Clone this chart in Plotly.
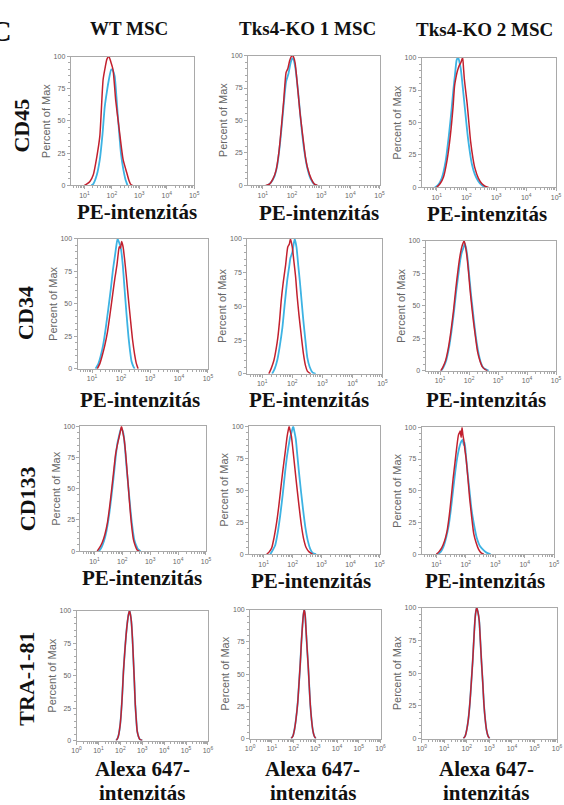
import plotly.graph_objects as go

# ---------------- data (log10 intensity, percent of max) ----------------
columns = ["WT MSC", "Tks4-KO 1 MSC", "Tks4-KO 2 MSC"]
rows = ["CD45", "CD34", "CD133", "TRA-1-81"]
pe_tick_exp = [1, 2, 3, 4, 5]
alexa_tick_exp = [0, 1, 2, 3, 4, 5, 6]
y_ticks = [0, 25, 50, 75, 100]

# CD45
cd45_wt_red_x = [1.00, 1.08, 1.20, 1.32, 1.45, 1.56, 1.68, 1.76, 1.82, 1.89, 1.96, 2.04, 2.14, 2.27, 2.41, 2.54, 2.62, 2.68, 2.75]
cd45_wt_red_y = [0, 1, 3, 8, 22, 38, 82, 92, 98, 100, 96, 90, 66, 43, 20, 10, 4, 1, 0]
cd45_wt_blue_x = [1.25, 1.32, 1.45, 1.56, 1.66, 1.74, 1.82, 1.89, 1.98, 2.04, 2.10, 2.21, 2.33, 2.42, 2.49, 2.57]
cd45_wt_blue_y = [0, 1, 8, 20, 40, 61, 73, 82, 90, 89, 85, 56, 25, 12, 5, 0]

cd45_ko1_red_x = [1.10, 1.23, 1.35, 1.46, 1.55, 1.63, 1.72, 1.80, 1.86, 1.92, 1.97, 2.03, 2.07, 2.11, 2.20, 2.28, 2.37, 2.46, 2.54, 2.66, 2.77, 2.88]
cd45_ko1_red_y = [0, 1, 5, 12, 25, 43, 66, 87, 90, 96, 99, 100, 98, 94, 74, 55, 38, 22, 13, 5, 1, 0]
cd45_ko1_blue_x = [1.15, 1.27, 1.40, 1.50, 1.60, 1.70, 1.80, 1.88, 1.95, 2.01, 2.05, 2.12, 2.22, 2.32, 2.42, 2.52, 2.64, 2.76, 2.85]
cd45_ko1_blue_y = [0, 2, 7, 16, 34, 58, 80, 86, 94, 98, 97, 90, 70, 46, 27, 14, 5, 1, 0]

cd45_ko2_red_x = [1.00, 1.12, 1.23, 1.35, 1.46, 1.55, 1.60, 1.66, 1.70, 1.76, 1.81, 1.87, 1.90, 1.93, 2.02, 2.08, 2.14, 2.22, 2.28, 2.40, 2.51, 2.62, 2.74]
cd45_ko2_red_y = [0, 3, 8, 21, 40, 62, 78, 86, 90, 94, 96, 100, 92, 83, 65, 50, 35, 22, 15, 7, 3, 1, 0]
cd45_ko2_blue_x = [0.94, 1.05, 1.17, 1.30, 1.41, 1.50, 1.56, 1.62, 1.67, 1.72, 1.76, 1.81, 1.88, 1.95, 2.05, 2.18, 2.28, 2.39, 2.50, 2.63]
cd45_ko2_blue_y = [0, 2, 7, 20, 40, 60, 75, 88, 98, 100, 97, 91, 76, 60, 38, 18, 10, 5, 2, 0]

# CD34
cd34_wt_red_x = [1.18, 1.27, 1.35, 1.44, 1.53, 1.62, 1.71, 1.79, 1.86, 1.90, 1.94, 1.98, 2.02, 2.07, 2.12, 2.18, 2.25, 2.33, 2.40, 2.47, 2.53, 2.59]
cd34_wt_red_y = [0, 4, 10, 18, 28, 42, 57, 70, 80, 88, 94, 93, 98, 94, 85, 72, 55, 37, 22, 11, 4, 0]
cd34_wt_blue_x = [1.12, 1.22, 1.30, 1.38, 1.47, 1.56, 1.65, 1.72, 1.79, 1.84, 1.88, 1.94, 2.00, 2.06, 2.12, 2.19, 2.26, 2.31, 2.36, 2.42, 2.47]
cd34_wt_blue_y = [0, 4, 10, 18, 31, 46, 62, 76, 87, 95, 100, 97, 92, 80, 62, 42, 24, 14, 6, 2, 0]

cd34_ko1_red_x = [1.22, 1.30, 1.39, 1.46, 1.52, 1.58, 1.63, 1.70, 1.78, 1.85, 1.90, 1.94, 2.00, 2.05, 2.11, 2.16, 2.22, 2.30, 2.37, 2.44, 2.50, 2.61]
cd34_ko1_red_y = [0, 4, 10, 18, 27, 40, 54, 68, 81, 94, 96, 100, 94, 84, 72, 58, 44, 28, 15, 6, 2, 0]
cd34_ko1_blue_x = [1.33, 1.42, 1.50, 1.58, 1.67, 1.75, 1.83, 1.90, 1.94, 2.00, 2.03, 2.08, 2.14, 2.20, 2.25, 2.31, 2.37, 2.44, 2.50, 2.58, 2.67, 2.78]
cd34_ko1_blue_y = [0, 4, 10, 20, 34, 52, 69, 80, 86, 90, 94, 100, 94, 80, 69, 54, 39, 24, 12, 5, 1, 0]

cd34_ko2_red_x = [1.02, 1.10, 1.19, 1.28, 1.37, 1.46, 1.54, 1.62, 1.69, 1.77, 1.83, 1.88, 1.92, 1.98, 2.03, 2.09, 2.15, 2.22, 2.29, 2.37, 2.46, 2.55, 2.63]
cd34_ko2_red_y = [0, 3, 8, 17, 30, 46, 63, 78, 89, 97, 100, 95, 89, 76, 63, 50, 38, 26, 15, 8, 3, 1, 0]
cd34_ko2_blue_x = [1.04, 1.12, 1.21, 1.30, 1.39, 1.48, 1.56, 1.64, 1.70, 1.76, 1.81, 1.85, 1.90, 1.95, 2.01, 2.07, 2.13, 2.19, 2.26, 2.33, 2.41, 2.50, 2.59, 2.68]
cd34_ko2_blue_y = [0, 3, 8, 17, 30, 46, 62, 76, 86, 92, 95, 98, 94, 86, 72, 58, 46, 34, 22, 13, 6, 2, 1, 0]

# CD133
cd133_wt_red_x = [1.10, 1.19, 1.28, 1.37, 1.46, 1.53, 1.60, 1.68, 1.76, 1.82, 1.88, 1.93, 1.97, 2.02, 2.07, 2.12, 2.16, 2.22, 2.28, 2.34, 2.40, 2.47, 2.53, 2.61]
cd133_wt_red_y = [0, 3, 7, 13, 22, 33, 46, 62, 78, 85, 91, 96, 100, 95, 89, 78, 67, 50, 33, 19, 9, 4, 1, 0]
cd133_wt_blue_x = [1.16, 1.25, 1.34, 1.43, 1.52, 1.61, 1.70, 1.76, 1.82, 1.88, 1.95, 2.00, 2.04, 2.09, 2.14, 2.21, 2.28, 2.35, 2.43, 2.49, 2.55, 2.65]
cd133_wt_blue_y = [0, 3, 8, 16, 28, 44, 62, 75, 86, 92, 98, 97, 94, 84, 70, 53, 36, 21, 9, 5, 2, 0]

cd133_ko1_red_x = [1.11, 1.20, 1.28, 1.36, 1.45, 1.52, 1.59, 1.66, 1.74, 1.81, 1.85, 1.88, 1.92, 1.96, 2.01, 2.07, 2.14, 2.22, 2.30, 2.38, 2.47, 2.56, 2.69]
cd133_ko1_red_y = [0, 2, 5, 13, 25, 37, 51, 65, 79, 92, 97, 100, 96, 92, 82, 69, 54, 38, 23, 12, 5, 2, 0]
cd133_ko1_blue_x = [1.23, 1.31, 1.40, 1.48, 1.57, 1.66, 1.74, 1.81, 1.88, 1.92, 1.96, 2.02, 2.06, 2.11, 2.16, 2.22, 2.29, 2.36, 2.44, 2.53, 2.61, 2.69, 2.81]
cd133_ko1_blue_y = [0, 3, 7, 16, 30, 47, 64, 77, 87, 92, 95, 100, 96, 90, 78, 64, 49, 35, 21, 10, 4, 1, 0]

cd133_ko2_red_x = [1.00, 1.09, 1.18, 1.27, 1.36, 1.44, 1.51, 1.57, 1.63, 1.69, 1.75, 1.79, 1.81, 1.84, 1.87, 1.90, 1.93, 1.97, 2.01, 2.07, 2.13, 2.20, 2.27, 2.35, 2.43, 2.52, 2.61]
cd133_ko2_red_y = [0, 2, 5, 10, 18, 31, 46, 60, 72, 84, 94, 96, 97, 92, 100, 94, 90, 82, 75, 60, 44, 29, 16, 9, 4, 1, 0]
cd133_ko2_blue_x = [1.06, 1.15, 1.24, 1.33, 1.42, 1.49, 1.56, 1.62, 1.68, 1.74, 1.80, 1.85, 1.89, 1.93, 1.96, 2.01, 2.07, 2.13, 2.19, 2.28, 2.37, 2.49, 2.61, 2.72, 2.84]
cd133_ko2_blue_y = [0, 2, 6, 13, 23, 35, 49, 61, 72, 80, 86, 89, 90, 86, 88, 76, 62, 49, 36, 23, 13, 6, 3, 1, 0]

# TRA-1-81 (red and blue overlap completely)
tra_wt_x = [1.81, 1.88, 1.93, 1.99, 2.04, 2.09, 2.14, 2.20, 2.26, 2.32, 2.37, 2.42, 2.46, 2.50, 2.55, 2.59, 2.64, 2.68, 2.73, 2.77, 2.83, 2.88, 3.00]
tra_wt_y = [0, 2, 5, 12, 22, 36, 53, 68, 81, 91, 97, 100, 97, 92, 79, 64, 45, 28, 15, 7, 3, 1, 0]
tra_ko1_x = [1.89, 1.97, 2.04, 2.11, 2.19, 2.25, 2.31, 2.36, 2.41, 2.45, 2.49, 2.53, 2.56, 2.61, 2.67, 2.72, 2.77, 2.83, 2.89, 2.95, 3.02]
tra_ko1_y = [0, 2, 7, 15, 28, 43, 59, 75, 88, 96, 100, 96, 88, 73, 57, 41, 26, 14, 6, 2, 0]
tra_ko2_x = [1.85, 1.93, 2.00, 2.07, 2.14, 2.20, 2.26, 2.31, 2.36, 2.40, 2.44, 2.49, 2.55, 2.60, 2.65, 2.71, 2.76, 2.82, 2.88, 2.94, 3.01]
tra_ko2_y = [0, 2, 7, 15, 28, 43, 59, 75, 90, 97, 100, 97, 90, 75, 59, 42, 26, 14, 6, 2, 0]

# ---------------- layout geometry (pixels) ----------------
W, H = 564, 805
RED = "#c2202e"
BLUE = "#3db3e3"
AX = "#a9a9a9"
TXT = "#666666"
SERIF = "Liberation Serif"
SANS = "Liberation Sans"

# box: x0, x1, y0(top), y1(bottom)
boxes = [
    [(67, 193, 53, 183), (248, 382, 52, 183), (425, 562, 54, 185)],
    [(74, 207, 237, 368), (247, 385, 237, 373), (429, 562, 239, 370)],
    [(77, 205, 426, 552), (249, 382, 426, 555), (425, 560, 427, 555)],
    [(73, 207, 612, 743), (250, 383, 611, 741), (425, 563, 609, 741)],
]

series = [
    [((cd45_wt_blue_x, cd45_wt_blue_y), (cd45_wt_red_x, cd45_wt_red_y)),
     ((cd45_ko1_blue_x, cd45_ko1_blue_y), (cd45_ko1_red_x, cd45_ko1_red_y)),
     ((cd45_ko2_blue_x, cd45_ko2_blue_y), (cd45_ko2_red_x, cd45_ko2_red_y))],
    [((cd34_wt_blue_x, cd34_wt_blue_y), (cd34_wt_red_x, cd34_wt_red_y)),
     ((cd34_ko1_blue_x, cd34_ko1_blue_y), (cd34_ko1_red_x, cd34_ko1_red_y)),
     ((cd34_ko2_blue_x, cd34_ko2_blue_y), (cd34_ko2_red_x, cd34_ko2_red_y))],
    [((cd133_wt_blue_x, cd133_wt_blue_y), (cd133_wt_red_x, cd133_wt_red_y)),
     ((cd133_ko1_blue_x, cd133_ko1_blue_y), (cd133_ko1_red_x, cd133_ko1_red_y)),
     ((cd133_ko2_blue_x, cd133_ko2_blue_y), (cd133_ko2_red_x, cd133_ko2_red_y))],
    [((tra_wt_x, tra_wt_y), (tra_wt_x, tra_wt_y)),
     ((tra_ko1_x, tra_ko1_y), (tra_ko1_x, tra_ko1_y)),
     ((tra_ko2_x, tra_ko2_y), (tra_ko2_x, tra_ko2_y))],
]

def sup(k):
    return "10<sup>%d</sup>" % k

fig = go.Figure()
layout = dict(
    width=W, height=H, margin=dict(l=0, r=0, t=0, b=0),
    paper_bgcolor="white", plot_bgcolor="white", showlegend=False,
)
annotations = []

idx = 0
for r in range(4):
    for c in range(3):
        idx += 1
        x0, x1, y0, y1 = boxes[r][c]
        xa = "xaxis" if idx == 1 else "xaxis%d" % idx
        ya = "yaxis" if idx == 1 else "yaxis%d" % idx
        xr = "x" if idx == 1 else "x%d" % idx
        yr = "y" if idx == 1 else "y%d" % idx
        if r < 3:
            exps = pe_tick_exp
            rng = [0.5, 5.0]
        else:
            exps = alexa_tick_exp
            rng = [0.0, 6.0]
        minor_vals = [m * 10 ** k for k in range(int(rng[0]) - 1, int(rng[1]) + 1) for m in range(2, 10)]
        layout[xa] = dict(
            domain=[x0 / W, x1 / W], anchor=yr, type="log", range=rng,
            tickmode="array", tickvals=[10 ** k for k in exps], ticktext=[sup(k) for k in exps],
            ticks="outside", ticklen=3, tickcolor=AX, tickwidth=1,
            tickfont=dict(size=7, color=TXT, family=SANS),
            showline=True, linecolor=AX, linewidth=1, mirror=True,
            showgrid=False, zeroline=False,
            minor=dict(tickmode="array", tickvals=minor_vals, ticks="outside", ticklen=2, tickcolor=AX),
        )
        layout[ya] = dict(
            domain=[1 - y1 / H, 1 - y0 / H], anchor=xr, range=[0, 100],
            tickmode="array", tickvals=y_ticks, ticktext=[str(v) for v in y_ticks],
            ticks="outside", ticklen=3, tickcolor=AX, tickwidth=1,
            tickfont=dict(size=7, color=TXT, family=SANS),
            showline=True, linecolor=AX, linewidth=1, mirror=True,
            showgrid=False, zeroline=False,
            minor=dict(dtick=5, ticks="outside", ticklen=2, tickcolor=AX),
        )
        (bx, by), (rx, ry) = series[r][c]
        fig.add_trace(go.Scatter(x=[10 ** v for v in bx], y=by, mode="lines", xaxis=xr, yaxis=yr,
                                 line=dict(color=BLUE, width=1.8, shape="spline", smoothing=0.6)))
        fig.add_trace(go.Scatter(x=[10 ** v for v in rx], y=ry, mode="lines", xaxis=xr, yaxis=yr,
                                 line=dict(color=RED, width=1.5, shape="spline", smoothing=0.6)))
        # y axis title
        annotations.append(dict(
            x=(x0 - 25) / W, y=1 - ((y0 + y1) / 2) / H, xref="paper", yref="paper",
            text="Percent of Max", showarrow=False, textangle=-90,
            xanchor="center", yanchor="middle", font=dict(size=11, color=TXT, family=SANS)))

# column titles
col_pos = [(126, 25), (309, 25), (489, 26)]
for t, (cx, cy) in zip(columns, col_pos):
    annotations.append(dict(x=cx / W, y=1 - cy / H, xref="paper", yref="paper", text=t,
                            showarrow=False, xanchor="center", yanchor="middle",
                            font=dict(size=19, color="#111", family=SERIF, weight="bold")))

# row labels
row_pos = [(17, 123), (21, 312), (23, 499), (21, 681)]
for t, (cx, cy) in zip(rows, row_pos):
    annotations.append(dict(x=cx / W, y=1 - cy / H, xref="paper", yref="paper", text=t,
                            showarrow=False, textangle=-90, xanchor="center", yanchor="middle",
                            font=dict(size=22, color="#111", family=SERIF, weight="bold")))

# x titles
pe_pos = [[(135, 210), (320, 211), (492, 212)],
          [(138, 399), (310, 399), (491, 399)],
          [(140, 579), (312, 582), (490, 582)]]
for rowp in pe_pos:
    for cx, cy in rowp:
        annotations.append(dict(x=cx / W, y=1 - cy / H, xref="paper", yref="paper", text="PE-intenzitás",
                                showarrow=False, xanchor="center", yanchor="middle",
                                font=dict(size=21, color="#111", family=SERIF, weight="bold")))
for cx in (140, 314, 491):
    annotations.append(dict(x=cx / W, y=1 - 772 / H, xref="paper", yref="paper", text="Alexa 647-",
                            showarrow=False, xanchor="center", yanchor="middle",
                            font=dict(size=21, color="#111", family=SERIF, weight="bold")))
    annotations.append(dict(x=cx / W, y=1 - 796 / H, xref="paper", yref="paper", text="intenzitás",
                            showarrow=False, xanchor="center", yanchor="middle",
                            font=dict(size=21, color="#111", family=SERIF, weight="bold")))

# panel letter (cropped at the left edge)
annotations.append(dict(x=0, y=1 - 27 / H, xref="paper", yref="paper", text="C", showarrow=False,
                        xanchor="right", yanchor="middle", xshift=9,
                        font=dict(size=30, color="#111", family=SERIF, weight="bold")))

layout["annotations"] = annotations
fig.update_layout(**layout)
fig.write_html("out.html")
